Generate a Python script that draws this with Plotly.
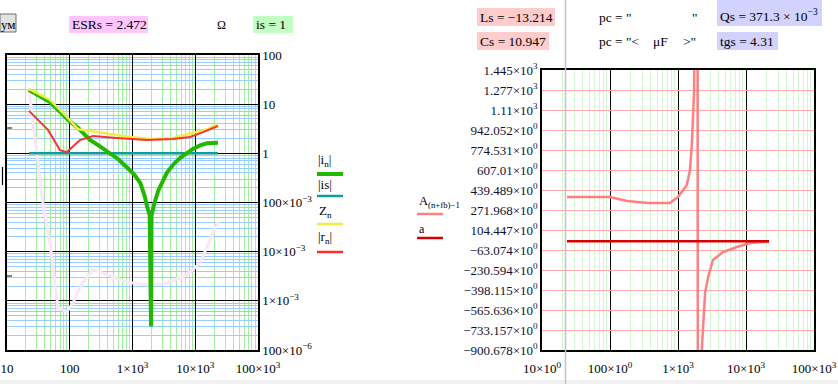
import plotly.graph_objects as go

W, H = 838, 384

# ---------------- left chart data (log-log) ----------------
f_i = [22.4, 30, 48.5, 70, 94, 135, 210, 300, 440, 600, 810, 1050, 1330, 1550, 1720,
       1880, 1975, 2010, 2250, 2600, 3530, 4500, 5700, 7300, 9170, 12000, 15500, 23000]
i_mag = [19.5, 16, 11, 7, 4.8, 3.3, 1.87, 1.4, 1.0, 0.75, 0.52, 0.38, 0.25, 0.14, 0.08,
         0.055, 3e-4, 0.055, 0.1, 0.18, 0.4, 0.6, 0.8, 1.02, 1.23, 1.45, 1.6, 1.65]

f_is = [22.4, 23000]
is_mag = [1.0, 1.0]

f_z = [22.4, 48.5, 94, 135, 210, 440, 910, 2120, 4420, 9170, 15500, 23000]
z_mag = [20.4, 12.2, 5.2, 3.1, 2.86, 2.47, 2.15, 1.96, 2.05, 2.6, 3.1, 3.95]

f_r = [22.4, 45, 70, 90, 145, 235, 560, 1700, 4420, 8300, 13300, 23000]
r_mag = [7.3, 3.0, 1.16, 1.06, 1.86, 2.25, 2.05, 1.86, 1.96, 2.15, 2.7, 3.6]

f_w = [22.4, 37.5, 48.5, 58, 65, 90, 113, 145, 235, 390, 820, 1700, 3530, 7400, 11800, 17200, 23000]
w_mag = [19.4, 0.098, 0.015, 0.0023, 7.2e-4, 6e-4, 9.1e-4, 1.9e-3, 4.3e-3, 3.4e-3, 2.4e-3,
         2.1e-3, 2.3e-3, 3.4e-3, 5.8e-3, 0.0173, 0.041]

left_xtick_vals = [10, 100, 1000, 10000, 100000]
left_xtick_text = ["10", "100", "1×10<sup>3</sup>", "10×10<sup>3</sup>", "100×10<sup>3</sup>"]
left_ytick_vals = [100, 10, 1, 0.1, 0.01, 0.001, 0.0001]
left_ytick_text = ["100", "10", "1", "100×10<sup>−3</sup>", "10×10<sup>−3</sup>",
                   "1×10<sup>−3</sup>", "100×10<sup>−6</sup>"]

# ---------------- right chart data (log-x, linear y) ----------------
f_A = [23.3, 100, 178, 362, 760, 1000, 1350, 1500, 1600, 1720, 1800, 1900,
       2000, 2150, 2240, 2500, 2770, 3270, 4600, 7300, 11500, 21800]
A_val = [380.8, 380.8, 347, 331, 331, 381, 481, 607, 833, 1252, 2500, 9000,
         -9000, -1500, -900, -423, -289, -147, -80, -38, -5, 6]

f_a = [23.3, 21800]
a_val = [10.947, 10.947]

right_ytick_vals = [1444.612, 1277.091, 1109.570, 942.052, 774.531, 607.010, 439.489, 271.968,
                    104.447, -63.074, -230.594, -398.115, -565.636, -733.157, -900.678]
right_ytick_text = ["1.445×10<sup>3</sup>", "1.277×10<sup>3</sup>", "1.11×10<sup>3</sup>",
                    "942.052×10<sup>0</sup>", "774.531×10<sup>0</sup>", "607.01×10<sup>0</sup>",
                    "439.489×10<sup>0</sup>", "271.968×10<sup>0</sup>", "104.447×10<sup>0</sup>",
                    "−63.074×10<sup>0</sup>", "−230.594×10<sup>0</sup>", "−398.115×10<sup>0</sup>",
                    "−565.636×10<sup>0</sup>", "−733.157×10<sup>0</sup>", "−900.678×10<sup>0</sup>"]
right_xtick_vals = [10, 100, 1000, 10000, 100000]
right_xtick_text = ["10×10<sup>0</sup>", "100×10<sup>0</sup>", "1×10<sup>3</sup>",
                    "10×10<sup>3</sup>", "100×10<sup>3</sup>"]

FONT = "Liberation Serif, Times New Roman, serif"
minor_dec = [k * 10 ** e for e in range(-5, 6) for k in range(2, 10)]


def px(x):
    return x / W


def py(y):
    return 1 - y / H


fig = go.Figure()

# left traces
fig.add_trace(go.Scatter(x=f_w, y=w_mag, mode="lines", line=dict(color="#fbe6fb", width=3),
                         xaxis="x", yaxis="y", showlegend=False))
fig.add_trace(go.Scatter(x=f_is, y=is_mag, mode="lines", line=dict(color="#109c9c", width=2.5),
                         xaxis="x", yaxis="y", showlegend=False))
fig.add_trace(go.Scatter(x=f_i, y=i_mag, mode="lines", line=dict(color="#22b800", width=4),
                         xaxis="x", yaxis="y", showlegend=False))
fig.add_trace(go.Scatter(x=f_z, y=z_mag, mode="lines", line=dict(color="#eeee44", width=2.5),
                         xaxis="x", yaxis="y", showlegend=False))
fig.add_trace(go.Scatter(x=f_r, y=r_mag, mode="lines", line=dict(color="#ff3030", width=2),
                         xaxis="x", yaxis="y", showlegend=False))

# right traces
fig.add_trace(go.Scatter(x=f_A, y=A_val, mode="lines", line=dict(color="#ff8080", width=2.5),
                         xaxis="x2", yaxis="y2", showlegend=False))
fig.add_trace(go.Scatter(x=f_a, y=a_val, mode="lines", line=dict(color="#d80000", width=2.5),
                         xaxis="x2", yaxis="y2", showlegend=False))

tickfont = dict(family=FONT, size=13, color="#000000")

fig.update_layout(
    width=W, height=H, margin=dict(l=0, r=0, t=0, b=0, pad=0, autoexpand=False),
    paper_bgcolor="white", plot_bgcolor="white", showlegend=False,
    xaxis=dict(type="log", range=[1, 5], domain=[px(7), px(258)], anchor="y", automargin=False,
               tickvals=left_xtick_vals, ticktext=left_xtick_text, tickfont=tickfont,
               ticklabelstandoff=6,
               showgrid=True, gridcolor="#000000", gridwidth=1.2,
               minor=dict(tickvals=minor_dec, showgrid=True, gridcolor="#a0f0a0", gridwidth=1),
               showline=True, linecolor="#000000", linewidth=1.5, mirror=True,
               ticks="", zeroline=False),
    yaxis=dict(type="log", range=[-4, 2], domain=[py(350), py(55)], anchor="x", side="right",
               automargin=False,
               tickvals=left_ytick_vals, ticktext=left_ytick_text, tickfont=tickfont,
               showgrid=True, gridcolor="#000000", gridwidth=1.2,
               minor=dict(tickvals=minor_dec, showgrid=True, gridcolor="#99ccff", gridwidth=1),
               showline=True, linecolor="#000000", linewidth=1.5, mirror=True,
               ticks="", zeroline=False),
    xaxis2=dict(type="log", range=[1, 5], domain=[px(542), px(814)], anchor="y2", automargin=False,
                tickvals=right_xtick_vals, ticktext=right_xtick_text, tickfont=tickfont,
                ticklabelstandoff=6,
                showgrid=True, gridcolor="#000000", gridwidth=1.2,
                minor=dict(tickvals=minor_dec, showgrid=True, gridcolor="#d2f5d2", gridwidth=1),
                showline=True, linecolor="#000000", linewidth=1.5, mirror=True,
                ticks="", zeroline=False),
    yaxis2=dict(range=[-900.678, 1444.612], domain=[py(350), py(70)], anchor="x2", automargin=False,
                tickvals=right_ytick_vals, ticktext=right_ytick_text,
                tickfont=dict(family=FONT, size=13, color="#101030"),
                showgrid=True, gridcolor="#ffaaaa", gridwidth=1,
                showline=True, linecolor="#000000", linewidth=1.5, mirror=True,
                ticks="", zeroline=False),
)

shapes = []
annotations = []


def rect(x0, y0, x1, y1, fill, line=None, layer="below"):
    shapes.append(dict(type="rect", xref="paper", yref="paper", x0=px(x0), x1=px(x1),
                       y0=py(y1), y1=py(y0), fillcolor=fill,
                       line=dict(width=1 if line else 0, color=line or fill), layer=layer))


def hline(x0, x1, y, color, width):
    shapes.append(dict(type="line", xref="paper", yref="paper", x0=px(x0), x1=px(x1),
                       y0=py(y), y1=py(y), line=dict(color=color, width=width), layer="above"))


def text(x, y, s, size=13, anchor="left", color="#000000"):
    annotations.append(dict(xref="paper", yref="paper", x=px(x), y=py(y), text=s,
                            showarrow=False, xanchor=anchor, yanchor="middle",
                            font=dict(family=FONT, size=size, color=color)))


# top text boxes
rect(0, 14, 16, 32, "#e2e2e2", line="#707070")
text(-1, 24, "ум", size=13)
rect(69, 16, 148, 33, "#ffc6ff")
text(70, 25, "ESRs = 2.472", size=13.5)
text(215, 25, "Ω", size=12)
rect(253, 16, 293, 33, "#c2ffc2")
text(254, 25, "is = 1", size=13.5)

rect(477, 8, 555, 26, "#ffcccc")
text(478, 17, "Ls = −13.214", size=13.5)
rect(477, 32, 549, 50, "#ffcccc")
text(478, 41, "Cs = 10.947", size=13.5)
text(597, 17, "pc = \"", size=13.5)
text(690, 17, "\"", size=13.5)
text(597, 41, "pc = \"&lt;", size=13.5)
text(651, 41, "μF", size=13.5)
text(681, 41, "&gt;\"", size=13.5)
rect(717, 0, 822, 26, "#d2d2ff")
text(718, 16, "Qs = 371.3 × 10<sup>−3</sup>", size=13.5)
rect(717, 32, 778, 50, "#d2d2ff")
text(718, 41, "tgs = 4.31", size=13.5)

# left legend
text(316, 160, "|i<sub>n</sub>|", size=13)
hline(317, 343, 174, "#22b800", 4)
text(316, 184, "|is|", size=13)
hline(317, 343, 196, "#109c9c", 2.5)
text(317, 211, "Z<sub>n</sub>", size=13)
hline(317, 343, 224, "#eeee44", 2.5)
text(316, 237, "|r<sub>n</sub>|", size=13)
hline(317, 343, 252, "#ff3030", 2.5)

# right legend
text(417, 202, "A<sub>(n+fb)−1</sub>", size=12.5)
hline(417, 443, 214, "#ff8080", 2.5)
text(417, 229, "a", size=12)
hline(417, 443, 238, "#d80000", 2.5)

# stray marks on the left
hline(7, 12, 128, "#000000", 1)
hline(7, 12, 276, "#000000", 1)
shapes.append(dict(type="line", xref="paper", yref="paper", x0=px(2.5), x1=px(2.5),
                   y0=py(185), y1=py(167), line=dict(color="#000000", width=1.2), layer="above"))

# region separator and bottom strip
shapes.append(dict(type="line", xref="paper", yref="paper", x0=px(565.5), x1=px(565.5),
                   y0=0, y1=1, line=dict(color="#c4c4c4", width=1.5), layer="above"))
rect(0, 380, 838, 384, "#f0f0f0")

fig.update_layout(shapes=shapes, annotations=annotations)
fig.write_html("out.html", config={"displayModeBar": False},
               post_script="document.body.style.margin='0';document.body.style.overflow='hidden';")
